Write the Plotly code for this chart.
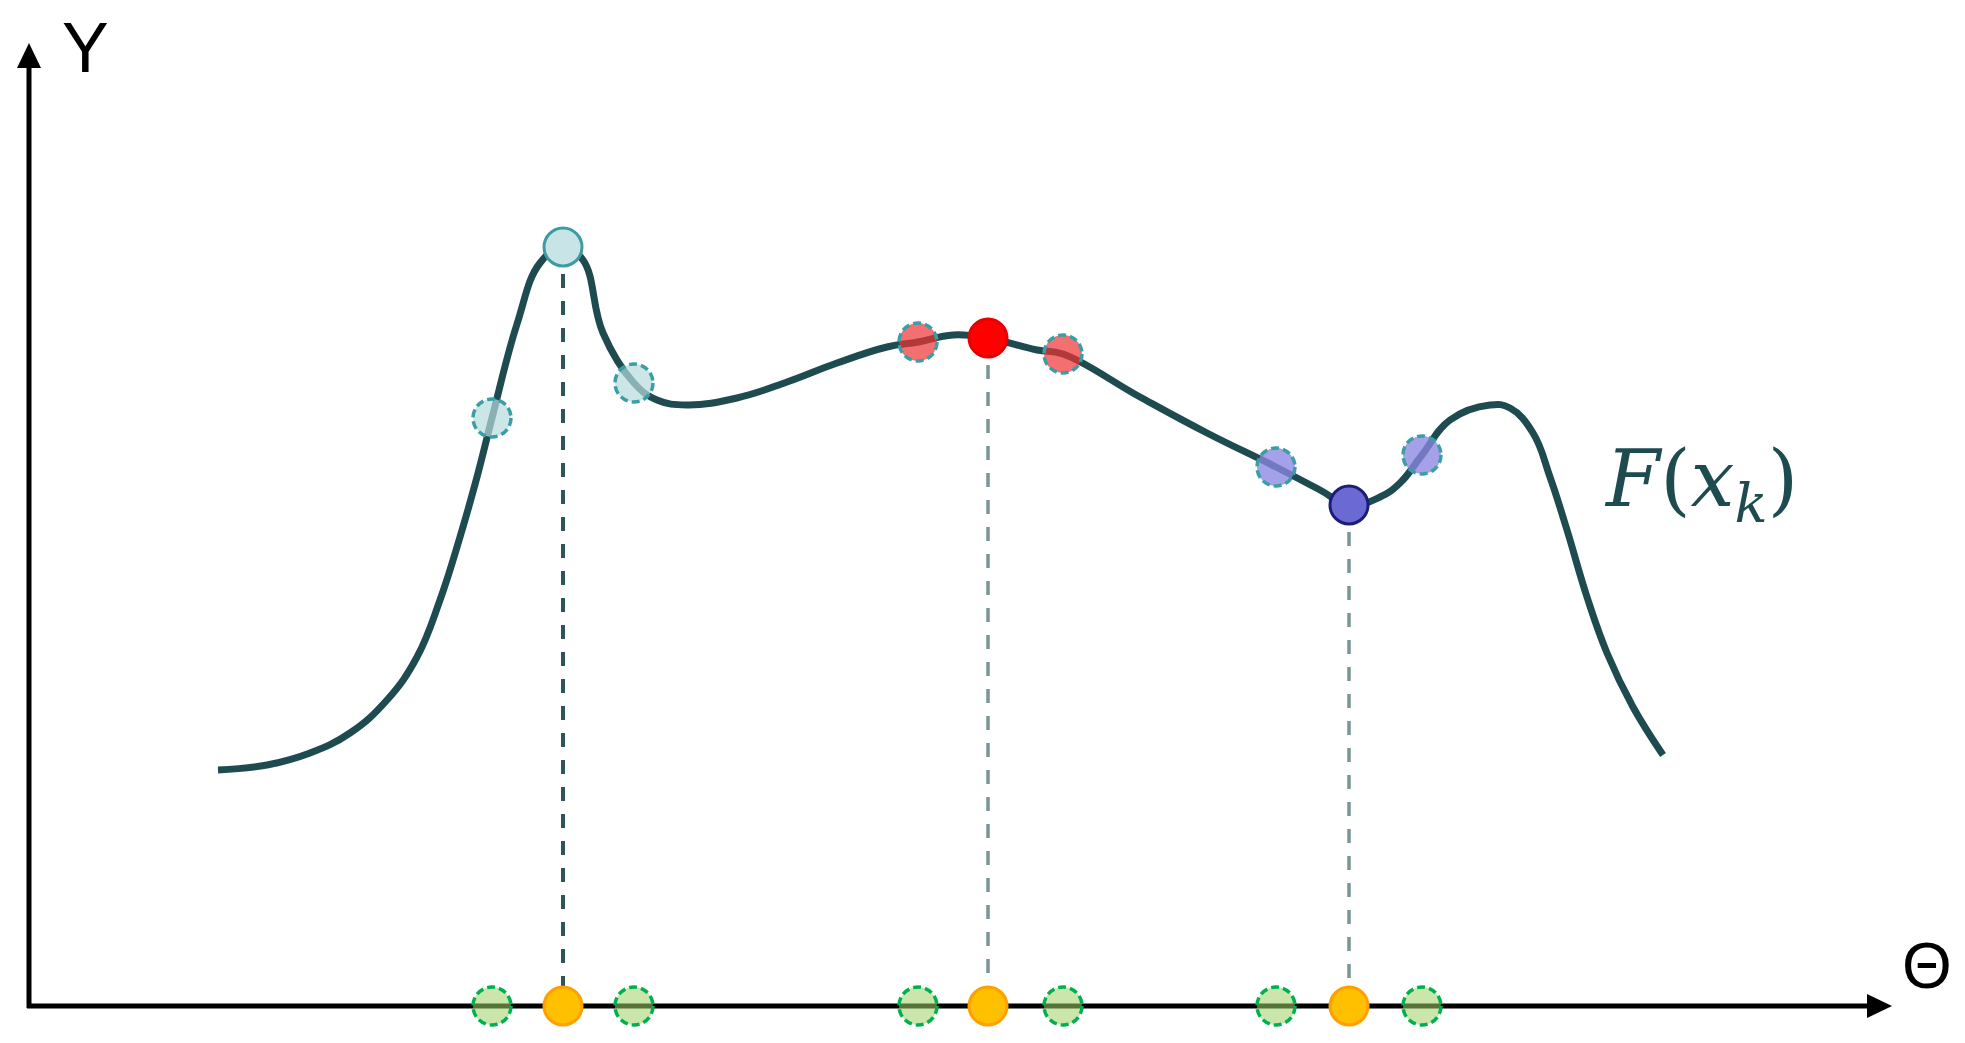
import plotly.graph_objects as go

# curve F(x_k) (theta, F)
theta = [189, 238, 281, 321, 358, 388, 411, 431, 448, 463, 488, 511, 534, 554, 574, 605,
         628, 658, 708, 758, 808, 858, 889, 924, 959, 1008, 1034, 1111, 1178, 1247, 1291, 1320,
         1351, 1371, 1393, 1421, 1461, 1481, 1504, 1521, 1538, 1558, 1578, 1604, 1634]
F = [236, 241, 253, 273, 306, 349, 406, 469, 529, 588, 682, 743, 759, 746, 673, 623,
     606, 601, 608, 624, 643, 659, 664, 671, 668, 656, 652, 609, 573, 539, 516, 501,
     509, 523, 551, 586, 601, 598, 573, 529, 476, 409, 353, 299, 251]

# best point of each group and its two neighbours
best_theta = [534, 959, 1320]
best_F = [759, 668, 501]
left_theta = [463, 889, 1247]
left_F = [588, 664, 539]
right_theta = [605, 1034, 1393]
right_F = [623, 652, 551]

best_fill = ["#c8e4e7", "#ff0000", "#6a6ad2"]
best_edge = ["#3d9ca3", "#e60000", "#1c1c7c"]
near_fill = ["rgba(183,219,222,0.7)", "rgba(240,50,50,0.7)", "rgba(140,135,225,0.78)"]
drop_color = ["#2f5459", "#7a9595", "#7a9595"]

curve_color = "#1e4b4f"
R = 19  # radius of the sample circles, px

fig = go.Figure()

# dashed drops to the theta axis
for i in range(3):
    fig.add_trace(go.Scatter(
        x=[best_theta[i], best_theta[i]], y=[best_F[i], 0],
        mode="lines",
        line=dict(color=drop_color[i], width=4 if i == 0 else 3.5, dash="14px,13px"),
        hoverinfo="skip"
    ))

fig.add_trace(go.Scatter(
    x=theta, y=F,
    mode="lines",
    line=dict(color=curve_color, width=7, shape="spline", smoothing=1.2),
    hoverinfo="skip"
))

# best points on the curve
fig.add_trace(go.Scatter(
    x=best_theta, y=best_F,
    mode="markers",
    marker=dict(size=38, color=best_fill, line=dict(width=3, color=best_edge)),
    hoverinfo="skip"
))

# best points projected on the axis
fig.add_trace(go.Scatter(
    x=best_theta, y=[0, 0, 0],
    mode="markers",
    marker=dict(size=38, color="#ffc000", line=dict(width=3, color="#ff9f00")),
    hoverinfo="skip"
))

shapes = []
# axes with arrow heads
x_end, y_end, head, half = 1863, 963, 25, 12
shapes.append(dict(type="line", x0=-2, y0=0, x1=x_end - head + 2, y1=0,
                   line=dict(color="black", width=5), layer="below"))
shapes.append(dict(type="line", x0=0, y0=-2, x1=0, y1=y_end - head + 2,
                   line=dict(color="black", width=5), layer="below"))
shapes.append(dict(type="path",
                   path=f"M {x_end - head} {-half} L {x_end} 0 L {x_end - head} {half} Z",
                   fillcolor="black", line=dict(width=0), layer="below"))
shapes.append(dict(type="path",
                   path=f"M {-half} {y_end - head} L 0 {y_end} L {half} {y_end - head} Z",
                   fillcolor="black", line=dict(width=0), layer="below"))

# neighbour samples: dashed, see-through circles
for i in range(3):
    for tx, fy in [(left_theta[i], left_F[i]), (right_theta[i], right_F[i])]:
        shapes.append(dict(type="circle", x0=tx - R, x1=tx + R, y0=fy - R, y1=fy + R,
                           fillcolor=near_fill[i],
                           line=dict(color="#3a9ea5", width=3.5, dash="8px,4px")))
        shapes.append(dict(type="circle", x0=tx - R, x1=tx + R, y0=-R, y1=R,
                           fillcolor="rgba(160,210,100,0.55)",
                           line=dict(color="#00b050", width=3.5, dash="8px,4px")))

# page body keeps an 8px margin, so the figure is 8px smaller than the window
fig.update_layout(
    width=1957, height=1035,
    margin=dict(l=0, r=0, t=0, b=0),
    paper_bgcolor="white", plot_bgcolor="white",
    showlegend=False,
    xaxis=dict(range=[-21, 1936], visible=False, fixedrange=True),
    yaxis=dict(range=[-37, 998], visible=False, fixedrange=True),
    shapes=shapes,
)

fig.add_annotation(x=56, y=958, text="Y", showarrow=False,
                   font=dict(family="Liberation Sans", size=70, color="black"))
fig.add_annotation(x=1898, y=40, text="Θ", showarrow=False,
                   font=dict(family="Liberation Sans", size=64, color="black"))
fig.add_annotation(x=1672, y=522, text="<i>F</i>(<i>x<sub>k</sub></i>)", showarrow=False,
                   font=dict(family="DejaVu Serif", size=78, color=curve_color))

fig.write_html("out.html")
